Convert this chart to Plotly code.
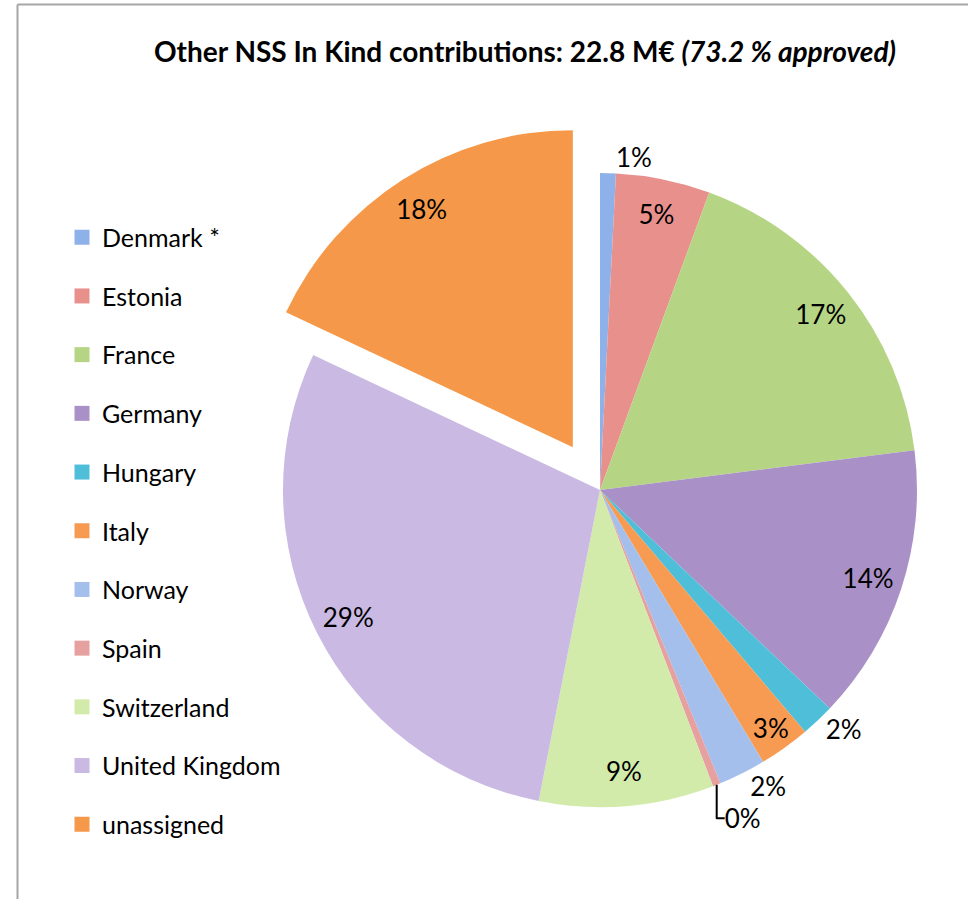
import plotly.graph_objects as go

# ---- data (in % of 22.8 M€) ----
countries = ["Denmark *", "Estonia", "France", "Germany", "Hungary", "Italy",
             "Norway", "Spain", "Switzerland", "United Kingdom", "unassigned"]
shares = [0.8, 4.8, 17.4, 14.1, 1.7, 2.6, 2.4, 0.4, 8.9, 28.9, 18.0]
colors = ["#8fb1ea", "#e8908c", "#b5d585", "#a991c7", "#4fbfd9", "#f79b52",
          "#a5bfec", "#e7a0a0", "#d3ebaa", "#c9b9e3", "#f59849"]
pulls = [0, 0, 0, 0, 0, 0, 0, 0, 0, 0, 0.16]
text_pos = ["outside", "inside", "inside", "inside", "outside", "inside",
            "outside", "outside", "inside", "inside", "inside"]
title_text = "<b>Other NSS In Kind contributions: 22.8 M€ <i>(73.2 % approved)</i></b>"

W, H = 968, 899
FONT = "Lato"

fig = go.Figure()

# pie geometry (pixels -> paper)
cx, cy, r = 600, 490, 317
half = r * (1 + max(pulls))
dom = dict(x=[(cx - half) / W, min(1.0, (cx + half) / W)],
           y=[1 - (cy + half) / H, 1 - (cy - half) / H])

# coloured slices
fig.add_trace(go.Pie(
    labels=countries, values=shares, sort=False, direction="clockwise",
    rotation=0, pull=pulls,
    marker=dict(colors=colors, line=dict(width=0)),
    textinfo="none", showlegend=False, domain=dom,
    hoverinfo="label+percent",
))

# transparent ring on top that carries the percentage labels near the rim
fig.add_trace(go.Pie(
    labels=countries, values=shares, sort=False, direction="clockwise",
    rotation=0, pull=pulls, hole=0.78,
    marker=dict(colors=["rgba(0,0,0,0)"] * len(countries), line=dict(width=0)),
    texttemplate="%{percent:.0%}", textposition=text_pos,
    insidetextorientation="horizontal",
    textfont=dict(family=FONT, size=26, color="black"),
    showlegend=False, domain=dom, hoverinfo="skip",
))

# legend entries (one group each so the gap between them can be set)
for name, col in zip(countries, colors):
    fig.add_trace(go.Scatter(
        x=[None], y=[None], mode="markers", name=name,
        legendgroup=name,
        marker=dict(symbol="square", size=15, color=col),
        showlegend=True, hoverinfo="skip",
    ))

fig.update_layout(
    width=W, height=H,
    margin=dict(l=0, r=0, t=0, b=0, autoexpand=False),
    paper_bgcolor="white", plot_bgcolor="white",
    font=dict(family=FONT, color="black"),
    title=dict(text=title_text, x=525 / W, xanchor="center",
               y=1 - 52 / H, yanchor="middle", yref="container",
               font=dict(family=FONT, size=28, color="black")),
    xaxis=dict(visible=False), yaxis=dict(visible=False),
    uniformtext=dict(minsize=26, mode="show"),
    legend=dict(x=62 / W, xanchor="left", y=1 - 214.5 / H, yanchor="top",
                font=dict(family=FONT, size=25, color="black"),
                tracegroupgap=23.2, itemsizing="trace",
                bgcolor="rgba(0,0,0,0)"),
    shapes=[
        dict(type="line", xref="paper", yref="paper",
             x0=17.5 / W, x1=1.0, y0=1 - 4.5 / H, y1=1 - 4.5 / H,
             line=dict(color="#a6a6a6", width=2)),
        dict(type="line", xref="paper", yref="paper",
             x0=17.5 / W, x1=17.5 / W, y0=0, y1=1 - 4.5 / H,
             line=dict(color="#a6a6a6", width=2)),
    ],
)

fig.write_html("out.html", config={"displayModeBar": False},
               post_script="document.body.style.margin='0px';")
